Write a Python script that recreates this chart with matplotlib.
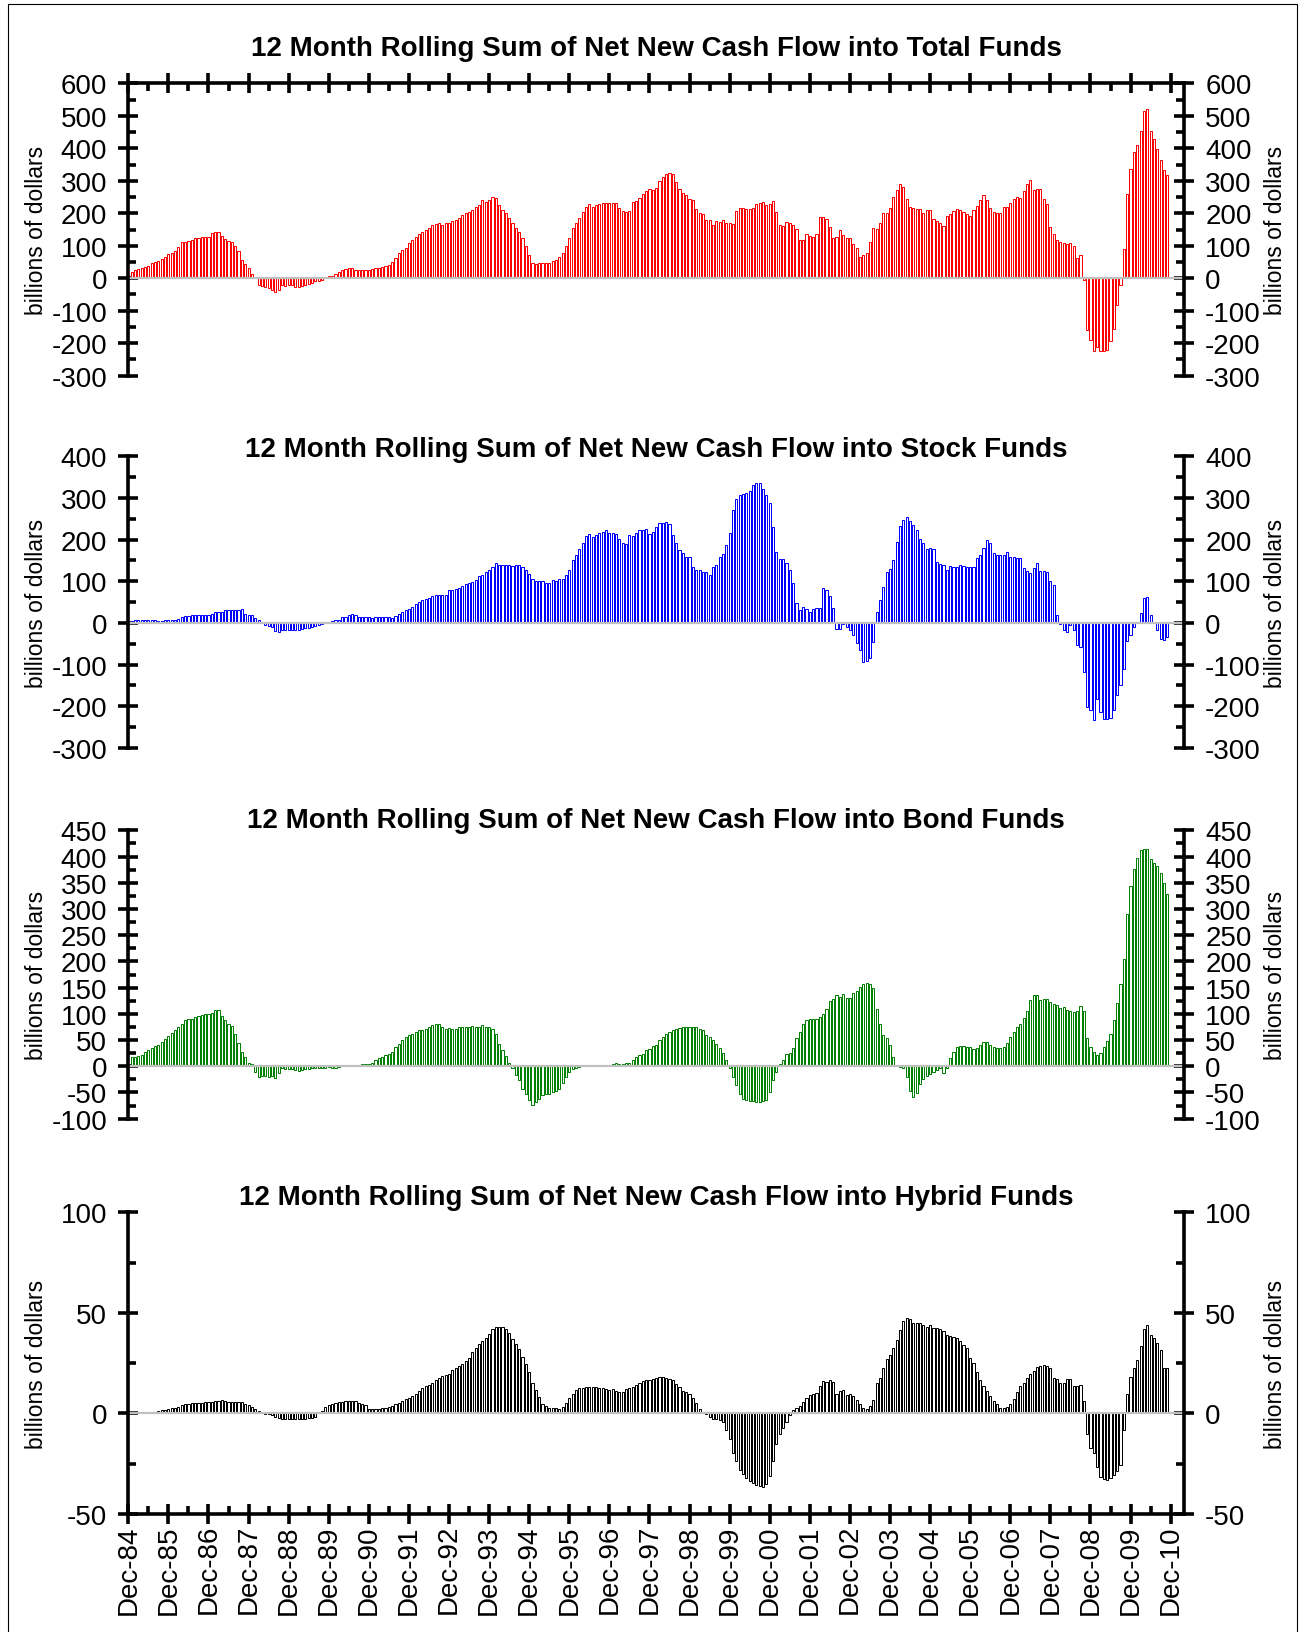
"""
12 month rolling sums of net new cash flow into mutual funds, four stacked panels.
"""

import numpy as np
import matplotlib
matplotlib.use("Agg")
import matplotlib.pyplot as plt
from matplotlib.ticker import MultipleLocator
from matplotlib.patches import Rectangle

plt.rcParams["font.family"] = ["Liberation Sans", "DejaVu Sans"]
plt.rcParams["axes.unicode_minus"] = False

# billions of dollars, one value per month, Jan-85 .. Nov-10
total_flow = [
    20, 26, 27, 31, 36, 39, 46, 49, 53, 59, 66, 74,              # 1985
    79, 85, 97, 110, 113, 115, 117, 123, 125, 127, 128, 128,     # 1986
    140, 142, 142, 131, 121, 115, 110, 100, 84, 56, 43, 31,      # 1987
    13, 2, -20, -25, -28, -31, -36, -43, -36, -22, -25, -22,     # 1988
    -22, -28, -27, -25, -22, -18, -15, -10, -7, -5, 4, 8,        # 1989
    8, 13, 20, 24, 27, 31, 31, 26, 26, 25, 25, 24,               # 1990
    28, 30, 30, 36, 39, 41, 51, 63, 77, 87, 94, 107,             # 1991
    118, 128, 136, 143, 148, 156, 164, 167, 169, 164, 169, 171,  # 1992
    176, 179, 184, 194, 200, 205, 210, 220, 225, 240, 235, 240,  # 1993
    251, 248, 225, 210, 200, 186, 169, 156, 143, 123, 100, 72,   # 1994
    48, 43, 48, 48, 48, 48, 53, 56, 65, 77, 99, 123,             # 1995
    154, 169, 186, 205, 220, 227, 220, 225, 230, 232, 233, 231,  # 1996
    231, 231, 215, 208, 205, 208, 235, 237, 248, 259, 268, 274,  # 1997
    271, 278, 299, 312, 320, 324, 322, 295, 276, 261, 256, 243,  # 1998
    240, 213, 200, 197, 180, 178, 164, 176, 174, 179, 169, 171,  # 1999
    168, 207, 215, 215, 212, 212, 215, 227, 233, 234, 225, 228,  # 2000
    238, 203, 164, 161, 172, 169, 164, 151, 117, 117, 136, 131,  # 2001
    126, 136, 189, 189, 182, 159, 123, 126, 148, 133, 125, 123,  # 2002
    104, 94, 66, 70, 79, 111, 154, 153, 170, 202, 202, 215,      # 2003
    251, 273, 290, 281, 244, 220, 217, 213, 213, 200, 210, 209,  # 2004
    182, 177, 169, 160, 192, 198, 207, 213, 211, 205, 199, 191,  # 2005
    211, 221, 241, 256, 241, 217, 205, 202, 202, 220, 220, 232,  # 2006
    243, 251, 246, 268, 290, 302, 271, 274, 274, 244, 228, 157,  # 2007
    136, 117, 110, 107, 105, 108, 100, 63, 70, -6, -159, -189,   # 2008
    -223, -213, -223, -223, -220, -194, -155, -82, -20, 89, 258, 335,  # 2009
    389, 411, 453, 515, 520, 453, 428, 399, 363, 333, 319,       # 2010
]

stock_flow = [
    5, 6, 6, 7, 6, 8, 7, 8, 4, 4, 6, 7,                          # 1985
    8, 7, 10, 14, 16, 17, 18, 18, 20, 20, 20, 20,                # 1986
    22, 26, 26, 27, 30, 30, 30, 31, 32, 34, 22, 20,              # 1987
    18, 12, 6, 0, -6, -8, -10, -20, -22, -18, -17, -17,          # 1988
    -17, -17, -16, -14, -13, -12, -10, -8, -5, -2, -1, 2,        # 1989
    4, 6, 8, 14, 15, 18, 22, 18, 15, 15, 14, 14,                 # 1990
    12, 14, 14, 14, 14, 14, 12, 16, 22, 27, 31, 34,              # 1991
    39, 46, 50, 55, 58, 60, 64, 68, 68, 68, 68, 78,              # 1992
    80, 82, 84, 88, 94, 96, 99, 103, 112, 116, 122, 126,         # 1993
    135, 143, 138, 138, 140, 138, 137, 140, 138, 134, 127, 118,  # 1994
    105, 100, 100, 100, 97, 97, 102, 100, 105, 105, 116, 126,    # 1995
    150, 164, 177, 191, 209, 214, 207, 212, 215, 218, 222, 217,  # 1996
    215, 214, 201, 192, 190, 210, 208, 215, 222, 222, 226, 214,  # 1997
    219, 230, 241, 241, 242, 238, 212, 191, 174, 169, 158, 159,  # 1998
    135, 126, 126, 122, 122, 114, 135, 140, 159, 166, 188, 215,  # 1999
    270, 297, 308, 310, 313, 316, 330, 337, 337, 322, 308, 289,  # 2000
    231, 170, 153, 154, 145, 126, 95, 48, 30, 39, 34, 26,        # 2001
    34, 35, 36, 84, 78, 64, 36, -15, -15, -3, -9, -17,           # 2002
    -28, -48, -64, -94, -92, -84, -46, 26, 56, 87, 122, 129,     # 2003
    152, 195, 232, 248, 255, 244, 235, 223, 201, 192, 178, 180,  # 2004
    177, 146, 141, 140, 126, 137, 134, 134, 138, 137, 135, 135,  # 2005
    134, 157, 162, 180, 198, 191, 169, 164, 162, 162, 170, 159,  # 2006
    159, 157, 157, 132, 124, 119, 132, 143, 124, 124, 122, 100,  # 2007
    92, 18, -2, -16, -22, -6, -16, -54, -58, -118, -202, -210,   # 2008
    -234, -182, -214, -230, -230, -228, -210, -174, -150, -110, -44, -28,  # 2009
    -9, 0, 23, 60, 62, 20, 0, -18, -38, -40, -33,                # 2010
]

bond_flow = [
    17, 18, 19, 21, 27, 31, 35, 38, 41, 46, 52, 57,              # 1985
    64, 69, 75, 81, 88, 90, 91, 94, 96, 98, 99, 100,             # 1986
    102, 107, 107, 95, 88, 81, 76, 62, 45, 27, 18, 6,            # 1987
    4, -11, -20, -19, -19, -20, -19, -22, -13, -4, -5, -6,       # 1988
    -6, -8, -9, -8, -6, -6, -4, -3, -3, -3, -4, -1,              # 1989
    -3, -3, -1, 1, 2, 2, 2, 3, 3, 4, 4, 5,                       # 1990
    7, 11, 15, 18, 21, 23, 27, 36, 43, 51, 56, 59,               # 1991
    62, 65, 69, 69, 72, 75, 78, 80, 80, 74, 72, 73,              # 1992
    72, 72, 74, 75, 75, 75, 76, 75, 74, 78, 74, 74,              # 1993
    72, 61, 43, 31, 19, 7, -4, -17, -27, -43, -53, -65,          # 1994
    -74, -68, -62, -55, -53, -52, -50, -47, -43, -32, -20, -11,  # 1995
    -6, -4, -1, 0, 1, 2, 2, 1, 2, 1, 1, 3,                       # 1996
    4, 7, 4, 5, 7, 7, 11, 18, 21, 23, 31, 32,                    # 1997
    39, 41, 51, 55, 62, 65, 69, 71, 73, 75, 75, 75,              # 1998
    74, 74, 72, 69, 59, 56, 51, 43, 34, 25, 11, -4,              # 1999
    -20, -36, -53, -62, -65, -66, -67, -68, -68, -67, -64, -49,  # 2000
    -27, -11, 4, 11, 23, 25, 35, 54, 65, 81, 89, 90,             # 2001
    91, 91, 94, 99, 110, 125, 129, 135, 133, 137, 131, 131,      # 2002
    140, 144, 151, 156, 158, 156, 150, 110, 80, 59, 53, 41,      # 2003
    18, 1, -1, -4, -20, -47, -58, -51, -33, -25, -19, -15,       # 2004
    -11, -8, -4, -13, -3, 15, 27, 37, 38, 39, 37, 36,            # 2005
    32, 34, 40, 46, 46, 40, 37, 34, 34, 36, 45, 56,              # 2006
    65, 74, 81, 92, 105, 127, 135, 135, 126, 128, 128, 122,      # 2007
    118, 116, 112, 113, 107, 106, 104, 105, 115, 106, 54, 37,    # 2008
    27, 21, 26, 37, 48, 62, 88, 120, 156, 205, 291, 343,         # 2009
    376, 398, 412, 414, 414, 396, 387, 382, 369, 350, 328,       # 2010
]

hybrid_flow = [
    0, 0.2, 0.2, 0.3, 0.3, 0.5, 0.5, 0.8, 1.2, 1.5, 1.8, 2.2,             # 1985
    2.5, 2.8, 3.2, 4.0, 4.5, 4.8, 5.0, 5.1, 5.3, 5.3, 5.5, 5.6,           # 1986
    5.8, 6.1, 6.1, 6.6, 6.1, 5.8, 5.8, 5.8, 5.8, 5.8, 4.8, 4.2,           # 1987
    3.2, 2.3, 1.2, 0.3, -0.2, -0.5, -1.0, -1.7, -2.5, -2.7, -2.7, -2.7,   # 1988
    -2.8, -2.8, -3.0, -3.0, -2.7, -2.5, -2.2, -1.8, 0.3, 1.0, 3.3, 4.2,   # 1989
    4.8, 5.1, 5.5, 5.8, 6.1, 6.3, 6.3, 6.1, 5.1, 4.8, 4.2, 2.3,           # 1990
    2.0, 2.0, 2.3, 2.5, 2.8, 3.2, 3.7, 4.5, 5.0, 6.1, 7.1, 7.8,           # 1991
    8.6, 9.8, 11.1, 12.5, 13.5, 14.1, 15.1, 16.4, 17.8, 18.6, 18.9, 19.8, # 1992
    21.4, 22.8, 23.6, 24.8, 26.1, 27.4, 30.7, 32.4, 34.4, 36.0, 37.4, 39.4,  # 1993
    41.9, 43.0, 43.2, 43.0, 41.9, 40.2, 36.9, 34.4, 31.9, 28.1, 24.4, 20.8,  # 1994
    15.3, 11.5, 8.3, 4.5, 3.7, 2.8, 2.5, 2.5, 2.3, 3.2, 5.0, 7.8,         # 1995
    9.5, 11.5, 12.5, 12.8, 13.1, 13.1, 13.1, 13.1, 12.8, 12.5, 12.1, 11.8,  # 1996
    12.0, 11.1, 10.8, 10.6, 12.0, 12.8, 13.3, 14.1, 15.1, 16.1, 16.4, 16.4,  # 1997
    16.9, 17.8, 18.1, 18.1, 17.8, 17.3, 16.6, 14.5, 13.3, 11.1, 10.8, 9.8,   # 1998
    7.8, 5.3, 2.3, 0.8, -0.5, -1.7, -2.7, -3.0, -3.3, -4.3, -8.0, -12.9,     # 1999
    -19.6, -23.8, -27.9, -30.1, -32.1, -33.7, -34.6, -35.4, -36.2, -36.5, -35.0, -31.2,  # 2000
    -23.8, -15.4, -10.1, -7.1, -4.3, -0.8, 1.5, 2.5, 3.5, 5.6, 7.5, 9.1,     # 2001
    9.5, 10.3, 13.6, 16.1, 15.8, 16.4, 15.8, 9.8, 11.1, 11.5, 9.1, 9.5,      # 2002
    8.6, 6.5, 4.8, 2.8, 2.0, 3.7, 6.6, 15.0, 17.8, 22.4, 27.2, 28.9,         # 2003
    32.4, 36.5, 41.4, 46.0, 47.3, 47.0, 45.2, 45.0, 44.9, 44.0, 43.2, 44.0,  # 2004
    42.7, 42.4, 41.9, 41.0, 38.9, 38.4, 38.0, 37.4, 36.0, 34.1, 32.4, 27.7,  # 2005
    25.2, 20.8, 16.4, 13.6, 11.1, 8.6, 6.1, 4.5, 2.8, 2.5, 3.2, 4.8,         # 2006
    7.0, 10.8, 13.6, 15.3, 17.8, 19.8, 21.1, 23.1, 23.6, 23.9, 23.6, 22.8,   # 2007
    17.4, 17.3, 15.3, 15.3, 16.9, 17.3, 13.6, 13.6, 14.0, 6.1, -10.1, -17.1, # 2008
    -19.6, -26.7, -31.7, -32.4, -32.9, -32.1, -30.4, -28.4, -25.4, -8.3, 9.5, 18.3,  # 2009
    22.8, 26.6, 33.4, 41.9, 44.0, 39.0, 37.4, 35.2, 31.4, 22.4, 22.4,        # 2010
]

year_labels = [
    "Dec-84", "Dec-85", "Dec-86", "Dec-87", "Dec-88", "Dec-89", "Dec-90",
    "Dec-91", "Dec-92", "Dec-93", "Dec-94", "Dec-95", "Dec-96", "Dec-97",
    "Dec-98", "Dec-99", "Dec-00", "Dec-01", "Dec-02", "Dec-03", "Dec-04",
    "Dec-05", "Dec-06", "Dec-07", "Dec-08", "Dec-09", "Dec-10",
]

titles = [
    "12 Month Rolling Sum of Net New Cash Flow into Total Funds",
    "12 Month Rolling Sum of Net New Cash Flow into Stock Funds",
    "12 Month Rolling Sum of Net New Cash Flow into Bond Funds",
    "12 Month Rolling Sum of Net New Cash Flow into Hybrid Funds",
]

W, H = 1304, 1633
AX_LEFT, AX_RIGHT = 128.3, 1184.0
SPINE_W = 2.6
TICK_W = 2.6

# series, colour, y range, major step, minor step, axes top/bottom px, title y px
panels = [
    (total_flow, "#ff0000", (-300, 600), 100, 50, 84.3, 376.7, 49),
    (stock_flow, "#0000ff", (-300, 400), 100, 50, 457.3, 749.0, 450),
    (bond_flow, "#008000", (-100, 450), 50, 25, 831.3, 1119.7, 821),
    (hybrid_flow, "#000000", (-50, 100), 50, 25, 1213.3, 1515.0, 1198),
]

fig = plt.figure(figsize=(W / 100, H / 100), dpi=100)

for i, (vals, col, ylim, major, minor, top, bottom, ty) in enumerate(panels):
    ax = fig.add_axes([AX_LEFT / W, 1 - bottom / H,
                       (AX_RIGHT - AX_LEFT) / W, (bottom - top) / H])
    months = np.arange(1, len(vals) + 1)
    ax.bar(months, vals, width=0.64, color="white", edgecolor=col,
           linewidth=0.72, zorder=2)
    ax.axhline(0, color="#c0c0c0", lw=1.6, zorder=2.2)
    ax.set_xlim(0, 316)
    ax.set_ylim(*ylim)

    ax.yaxis.set_major_locator(MultipleLocator(major))
    ax.yaxis.set_minor_locator(MultipleLocator(minor))
    ax.tick_params(axis="y", which="major", direction="inout", length=14.5,
                   width=TICK_W, left=True, right=True, labelleft=True,
                   labelright=True, labelsize=20, pad=8)
    ax.tick_params(axis="y", which="minor", direction="in", length=6,
                   width=TICK_W, left=True, right=True)
    for s in ("left", "right"):
        ax.spines[s].set_linewidth(SPINE_W)
    ax.spines["top"].set_visible(False)
    ax.spines["bottom"].set_visible(False)

    ax.xaxis.set_major_locator(MultipleLocator(12))
    ax.xaxis.set_minor_locator(MultipleLocator(6))
    if i == 0:
        ax.spines["top"].set_visible(True)
        ax.spines["top"].set_linewidth(SPINE_W)
        ax.tick_params(axis="x", which="major", direction="inout", length=14.5,
                       width=TICK_W, top=True, bottom=False, labeltop=False,
                       labelbottom=False)
        ax.tick_params(axis="x", which="minor", direction="in", length=6,
                       width=TICK_W, top=True, bottom=False)
    elif i == 3:
        ax.spines["bottom"].set_visible(True)
        ax.spines["bottom"].set_linewidth(SPINE_W)
        ax.set_xticks(np.arange(0, 313, 12))
        ax.set_xticklabels(year_labels, rotation=90)
        ax.tick_params(axis="x", which="major", direction="inout", length=14.5,
                       width=TICK_W, top=False, bottom=True, labelsize=20, pad=0)
        ax.tick_params(axis="x", which="minor", direction="in", length=6,
                       width=TICK_W, top=False, bottom=True)
    else:
        ax.tick_params(axis="x", which="both", top=False, bottom=False,
                       labelbottom=False)

    fig.text(656 / W, 1 - ty / H, titles[i], ha="center", va="center",
             fontsize=20, fontweight="bold")
    mid = 1 - (top + bottom) / 2 / H
    fig.text(36.5 / W, mid, "billions of dollars", rotation=90,
             ha="center", va="center", fontsize=16.5)
    fig.text(1276 / W, mid, "billions of dollars", rotation=90,
             ha="center", va="center", fontsize=16.5)

# thin frame round the whole chart
fig.add_artist(Rectangle((8 / W, -0.01), (1297 - 8) / W, 1 - 5 / H + 0.01,
                         transform=fig.transFigure, fill=False,
                         edgecolor="black", lw=0.8))

fig.savefig("out.png", dpi=100)
